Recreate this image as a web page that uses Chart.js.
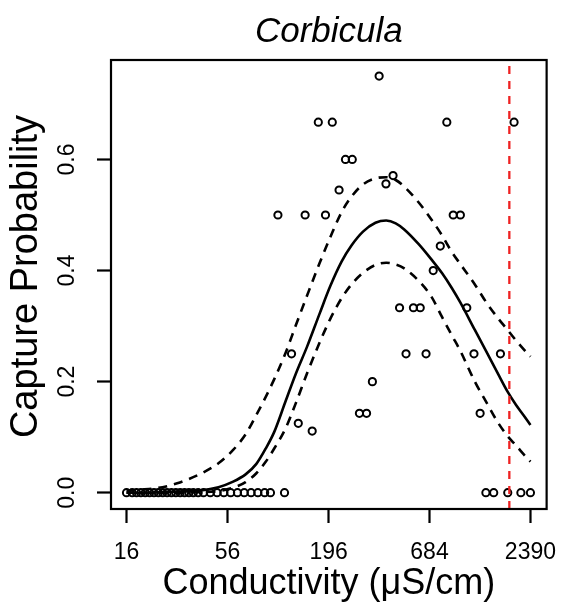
<!DOCTYPE html>
<html><head><meta charset="utf-8">
<script src="https://cdn.jsdelivr.net/npm/chart.js@4/dist/chart.umd.min.js"></script>
<style>html,body{margin:0;padding:0;background:#fff}#wrap{width:573px;height:608px}</style>
</head><body><div id="wrap"><canvas id="c" width="573" height="608"></canvas></div>
<script>
const FONT = '"Liberation Sans", Arial, Helvetica, sans-serif';
const chartTitle = 'Corbicula';
const xTitle = 'Conductivity (μS/cm)';
const yTitle = 'Capture Probability';
const xTicks = [16, 56, 196, 684, 2390];
const yTicks = [0, 0.2, 0.4, 0.6];
const xMin = 13.2, xMax = 2921, yMin = -0.0293, yMax = 0.779;

// observed capture probabilities
const obsCond = [16, 17.16, 18.11, 19.12, 20.18, 21.30, 22.49, 23.74, 25.06, 26.45, 27.93, 29.48, 31.12, 32.85, 34.68, 36.61, 38.88, 41.54, 45.19, 49.16, 53.48, 58.17, 63.28, 68.84, 74.90, 81.48, 88.63, 95.27, 113.4, 1376, 1516, 1804, 2123, 2390,
  104.5, 146.4, 188.4, 917.7, 1003, 366.4, 172.4, 205, 847.7, 1951, 241.4, 262.6, 435.4, 398.7, 223, 781.9, 716.3, 1086, 471.9, 560.5, 609.8, 123.7, 511.4, 655.4, 1187, 1648, 337, 287, 313.5, 1281, 134.5, 159.8];
const obsProb = [0, 0, 0, 0, 0, 0, 0, 0, 0, 0, 0, 0, 0, 0, 0, 0, 0, 0, 0, 0, 0, 0, 0, 0, 0, 0, 0, 0, 0, 0, 0, 0, 0, 0,
  0.5, 0.5, 0.5, 0.5, 0.5, 0.75, 0.667, 0.667, 0.667, 0.667, 0.6, 0.6, 0.571, 0.556, 0.545, 0.444, 0.4, 0.333, 0.333, 0.333, 0.333, 0.25, 0.25, 0.25, 0.25, 0.25, 0.2, 0.143, 0.143, 0.143, 0.125, 0.111];

// fitted curve and confidence band
const curveCond = [16, 20, 25, 30, 40, 50, 60, 70, 80, 90, 100, 115, 130, 150, 175, 200, 230, 260, 300, 350, 400, 450, 500, 600, 700, 800, 900, 1000, 1200, 1400, 1600, 1800, 2000, 2200, 2390];
const fitProb = [0.000, 0.000, 0.001, 0.002, 0.004, 0.010, 0.020, 0.033, 0.052, 0.080, 0.110, 0.165, 0.213, 0.263, 0.322, 0.372, 0.416, 0.445, 0.470, 0.486, 0.490, 0.485, 0.474, 0.447, 0.420, 0.395, 0.369, 0.343, 0.293, 0.251, 0.214, 0.182, 0.158, 0.139, 0.122];
const upperProb = [0.003, 0.006, 0.010, 0.017, 0.034, 0.053, 0.077, 0.105, 0.140, 0.173, 0.205, 0.252, 0.300, 0.355, 0.413, 0.460, 0.505, 0.533, 0.555, 0.566, 0.568, 0.563, 0.551, 0.522, 0.492, 0.463, 0.434, 0.412, 0.375, 0.340, 0.314, 0.293, 0.274, 0.258, 0.245];
const lowerProb = [0.000, 0.000, 0.000, 0.000, 0.001, 0.003, 0.009, 0.019, 0.035, 0.056, 0.080, 0.116, 0.160, 0.215, 0.270, 0.313, 0.350, 0.375, 0.396, 0.410, 0.414, 0.411, 0.404, 0.381, 0.353, 0.316, 0.284, 0.256, 0.200, 0.160, 0.126, 0.102, 0.085, 0.069, 0.056];
const thresholdCond = 1840;

const pts = (xs, ys) => xs.map((x, i) => ({x: x, y: ys[i]}));

const boxPlugin = {
  id: 'box',
  beforeDraw(chart) {
    const s = chart.scales.y;
    if (s && !s._titleShifted) {
      const orig = s.drawTitle;
      s.drawTitle = function () {
        const c = this.ctx; c.save(); c.translate(0, -8); orig.apply(this, arguments); c.restore();
      };
      s._titleShifted = true;
    }
  },
  afterDraw(chart) {
    const a = chart.chartArea, ctx = chart.ctx;
    ctx.save();
    ctx.strokeStyle = '#000';
    ctx.lineWidth = 2.2;
    ctx.setLineDash([]);
    ctx.strokeRect(a.left, a.top, a.right - a.left, a.bottom - a.top);
    ctx.restore();
  }
};

new Chart(document.getElementById('c'), {
  type: 'scatter',
  data: {
    datasets: [
      {label: 'threshold', data: [{x: thresholdCond, y: yMin}, {x: thresholdCond, y: yMax}], showLine: true, pointRadius: 0, borderColor: '#ee2222', borderWidth: 2.3, borderDash: [8, 7], order: 0},
      {label: 'fit', data: pts(curveCond, fitProb), showLine: true, pointRadius: 0, borderColor: '#000', borderWidth: 2.6, cubicInterpolationMode: 'monotone', order: 1},
      {label: 'upper', data: pts(curveCond, upperProb), showLine: true, pointRadius: 0, borderColor: '#000', borderWidth: 2.6, borderDash: [9, 7], cubicInterpolationMode: 'monotone', order: 2},
      {label: 'lower', data: pts(curveCond, lowerProb), showLine: true, pointRadius: 0, borderColor: '#000', borderWidth: 2.6, borderDash: [9, 7], cubicInterpolationMode: 'monotone', order: 3},
      {label: 'observed', data: pts(obsCond, obsProb), showLine: false, pointRadius: 3.6, pointBorderWidth: 2, pointBorderColor: '#000', pointBackgroundColor: 'rgba(0,0,0,0)', order: 5}
    ]
  },
  options: {
    responsive: false,
    animation: false,
    layout: {padding: {left: 0, right: 13, top: 0, bottom: 0}},
    plugins: {
      legend: {display: false},
      tooltip: {enabled: false},
      title: {display: true, fullSize: false, text: chartTitle, color: '#000', font: {family: FONT, size: 35, style: 'italic', weight: 'normal', lineHeight: 1}, padding: {top: 15, bottom: 10}}
    },
    scales: {
      x: {
        type: 'logarithmic', min: xMin, max: xMax,
        afterBuildTicks: s => { s.ticks = xTicks.map(v => ({value: v})); },
        afterFit: s => { s.height = 99; },
        ticks: {autoSkip: false, maxRotation: 0, minRotation: 0, padding: 16, color: '#000', font: {family: FONT, size: 23}, callback: v => String(v)},
        grid: {drawOnChartArea: false, drawTicks: true, tickLength: 14, tickWidth: 2.2, tickColor: '#000'},
        border: {display: false},
        title: {display: true, text: xTitle, color: '#000', font: {family: FONT, size: 36, lineHeight: 1}, padding: {top: 0, bottom: 6}}
      },
      y: {
        min: yMin, max: yMax,
        afterBuildTicks: s => { s.ticks = yTicks.map(v => ({value: v})); },
        afterFit: s => { s.width = 111; },
        ticks: {autoSkip: false, minRotation: 90, maxRotation: 90, crossAlign: 'center', padding: 13, color: '#000', font: {family: FONT, size: 23}, callback: v => v.toFixed(1)},
        grid: {drawOnChartArea: false, drawTicks: true, tickLength: 14, tickWidth: 2.2, tickColor: '#000'},
        border: {display: false},
        title: {display: true, text: yTitle, color: '#000', font: {family: FONT, size: 38, lineHeight: 1}, padding: {top: 7.5, bottom: 0}}
      }
    }
  },
  plugins: [boxPlugin]
});
</script></body></html>
